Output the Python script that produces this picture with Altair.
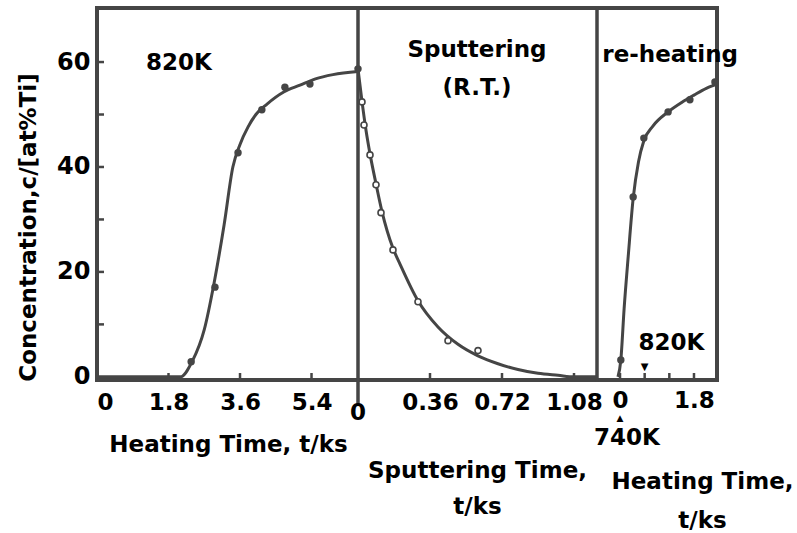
import altair as alt
import pandas as pd

F = "DejaVu Sans"
INK = "#454545"

# ---------------- data ----------------
# Panel 1: heating at 820K (t in ks)
heat1_t = [2.37, 2.97, 3.55, 4.15, 4.73, 5.36, 6.57]
heat1_c = [2.9, 17.1, 42.7, 50.9, 55.2, 55.8, 58.7]
heat1_curve_t = [0, 2.1, 2.4, 2.7, 2.95, 3.2, 3.42, 3.6, 3.8, 4.0, 4.28, 4.7, 5.11, 5.5, 5.94, 6.57]
heat1_curve_c = [0, 0, 3, 9, 18, 29, 40, 44.3, 47.6, 50, 52, 54.3, 55.6, 56.8, 57.6, 58.2]

# Panel 2: sputtering at room temperature
sput_t = [0.02, 0.03, 0.06, 0.09, 0.115, 0.175, 0.30, 0.45, 0.60]
sput_c = [52.4, 48.0, 42.3, 36.6, 31.3, 24.2, 14.3, 6.9, 5.0]
sput_curve_t = [0, 0.02, 0.04, 0.06, 0.09, 0.12, 0.175, 0.21, 0.3, 0.4, 0.5, 0.6, 0.7, 0.8, 0.9, 1.0, 1.08, 1.195]
sput_curve_c = [58.7, 52.5, 47, 42.5, 36.8, 31.5, 24.5, 21.5, 14.5, 9.5, 6.2, 4.0, 2.5, 1.4, 0.7, 0.3, 0, 0]

# Panel 3: re-heating
reheat_t = [0.02, 0.32, 0.58, 1.17, 1.70, 2.31]
reheat_c = [3.2, 34.3, 45.5, 50.5, 52.8, 56.2]
reheat_curve_t = [-0.05, 0.02, 0.1, 0.2, 0.32, 0.45, 0.58, 0.8, 1.17, 1.5, 1.8, 2.1, 2.36]
reheat_curve_c = [0, 3.2, 13, 23, 34, 41, 45, 47.8, 50.5, 52.3, 53.7, 55, 55.8]

# tick positions
x1_ticks = [1.8, 3.6, 5.4]
x2_ticks = [0.36, 0.72, 1.08]
x3_ticks = [0, 0.6, 1.2, 1.8]
y_ticks = [10, 20, 30, 40, 50, 60]

# ---------------- scales / axes ----------------
x1s = alt.Scale(domain=[0, 6.57], range=[0, 261], nice=False, zero=False)
x2s = alt.Scale(domain=[0, 1.195], range=[261, 500], nice=False, zero=False)
x3s = alt.Scale(domain=[-0.56, 2.36], range=[500, 620], nice=False, zero=False)
ys = alt.Scale(domain=[-0.6, 70.3], nice=False, zero=False)

lab = dict(labelFont=F, labelFontWeight="bold", labelColor="black",
           titleFont=F, titleFontWeight="bold", titleColor="black",
           ticks=False, domain=False, grid=False)

yaxis = alt.Axis(values=[0, 20, 40, 60], labelFontSize=24, labelPadding=7,
                 title="Concentration,c/[at%Ti]", titleFontSize=23,
                 titleAngle=270, titleAlign="center", titleBaseline="alphabetic",
                 titleX=-62, titleY=219, **lab)

ax1 = alt.Axis(orient="bottom", values=[0, 1.8, 3.6, 5.4], format=".1~f",
               labelFlush=True, labelFontSize=23, labelPadding=11,
               title="Heating Time, t/ks", titleFontSize=23, titleX=131, titleY=71,
               titleBaseline="alphabetic", titleAlign="center", **lab)
ax2 = alt.Axis(orient="bottom", values=[0.36, 0.72, 1.08], format=".2~f",
               labelFontSize=23, labelPadding=11,
               title=["Sputtering Time,", "t/ks"], titleFontSize=23, titleX=380, titleY=97,
               titleLineHeight=36, titleBaseline="alphabetic", titleAlign="center", **lab)
ax3 = alt.Axis(orient="bottom", values=[0, 1.8], format=".1~f",
               labelFontSize=23, labelPadding=9,
               title=["Heating Time,", "t/ks"], titleFontSize=23, titleX=605, titleY=108,
               titleLineHeight=39, titleBaseline="alphabetic", titleAlign="center", **lab)

Y = alt.Y("c:Q", scale=ys, axis=yaxis)


def panel(xs, ax, pts_t, pts_c, cur_t, cur_c, ticks, filled):
    pts = pd.DataFrame({"t": pts_t, "c": pts_c})
    cur = pd.DataFrame({"t": cur_t, "c": cur_c})
    tk = pd.DataFrame({"t": ticks})
    X = alt.X("t:Q", scale=xs, axis=ax)
    line = alt.Chart(cur).mark_line(color=INK, strokeWidth=3, interpolate="monotone").encode(x=X, y=Y)
    if filled:
        p = alt.Chart(pts).mark_circle(color=INK, opacity=1, size=55).encode(x=X, y=Y)
    else:
        p = alt.Chart(pts).mark_point(color=INK, filled=False, opacity=1,
                                      size=36, strokeWidth=1.6).encode(
            x=X, y=Y, fill=alt.value("white"))
    tks = alt.Chart(tk).mark_rule(color=INK, strokeWidth=2.5).encode(
        x=X, y=alt.value(372), y2=alt.value(365))
    return [line, p, tks]


layers1 = panel(x1s, ax1, heat1_t, heat1_c, heat1_curve_t, heat1_curve_c, x1_ticks, True)
layers2 = panel(x2s, ax2, sput_t, sput_c, sput_curve_t, sput_curve_c, x2_ticks, False)
layers3 = panel(x3s, ax3, reheat_t, reheat_c, reheat_curve_t, reheat_curve_c, x3_ticks, True)

X1 = alt.X("t:Q", scale=x1s, axis=ax1)
X2 = alt.X("t:Q", scale=x2s, axis=ax2)
X3 = alt.X("t:Q", scale=x3s, axis=ax3)

# y inward ticks
ytk = alt.Chart(pd.DataFrame({"c": y_ticks})).mark_rule(color=INK, strokeWidth=2.5).encode(
    y=Y, x=alt.value(0), x2=alt.value(7))

# annotations
ann_font = dict(font=F, fontWeight="bold", color="black")
t1 = alt.Chart(pd.DataFrame({"t": [2.06], "c": [59.8], "s": ["820K"]})).mark_text(
    fontSize=23, align="center", baseline="middle", **ann_font).encode(x=X1, y=Y, text="s:N")

div = alt.Chart(pd.DataFrame({"t": [0]})).mark_rule(color=INK, strokeWidth=3.5).encode(
    x=X2, y=alt.value(0), y2=alt.value(396))
div2 = alt.Chart(pd.DataFrame({"t": [1.195]})).mark_rule(color=INK, strokeWidth=3.5).encode(
    x=X2, y=alt.value(0), y2=alt.value(374))
t2 = alt.Chart(pd.DataFrame({"t": [0.595, 0.595], "c": [62.3, 55.0],
                             "s": ["Sputtering", "(R.T.)"]})).mark_text(
    fontSize=23, align="center", baseline="middle", **ann_font).encode(x=X2, y=Y, text="s:N")
zero2 = alt.Chart(pd.DataFrame({"t": [0], "s": ["0"]})).mark_text(
    fontSize=23, align="center", baseline="middle", **ann_font).encode(
    x=X2, y=alt.value(405), text="s:N")

t3 = alt.Chart(pd.DataFrame({"t": [1.22, 1.25], "c": [61.3, 6.5],
                             "s": ["re-heating", "820K"]})).mark_text(
    fontSize=23, align="center", baseline="middle", **ann_font).encode(x=X3, y=Y, text="s:N")
tri_dn = alt.Chart(pd.DataFrame({"t": [0.6], "c": [1.9], "s": ["▼"]})).mark_text(
    fontSize=10, align="center", baseline="middle", font="DejaVu Sans", color="black").encode(
    x=X3, y=Y, text="s:N")
tri_up = alt.Chart(pd.DataFrame({"t": [0], "s": ["▲"]})).mark_text(
    fontSize=9, align="center", baseline="middle", font="DejaVu Sans", color="black").encode(
    x=X3, y=alt.value(410), text="s:N")
t740 = alt.Chart(pd.DataFrame({"t": [0.17], "s": ["740K"]})).mark_text(
    fontSize=23, align="center", baseline="middle", **ann_font).encode(
    x=X3, y=alt.value(430), text="s:N")

p1 = alt.layer(*layers1, ytk, t1)
p2 = alt.layer(*layers2, div, div2, t2, zero2)
p3 = alt.layer(*layers3, t3, tri_dn, tri_up, t740)

chart = alt.layer(p1, p2, p3).resolve_scale(x="independent").properties(
    width=620, height=372,
    background="white",
    autosize=alt.AutoSizeParams(type="none"),
    padding={"left": 97, "top": 8, "right": 80, "bottom": 153},
).configure_view(stroke=INK, strokeWidth=4)

chart.save("out.html", embed_options={"renderer": "svg", "actions": False})
